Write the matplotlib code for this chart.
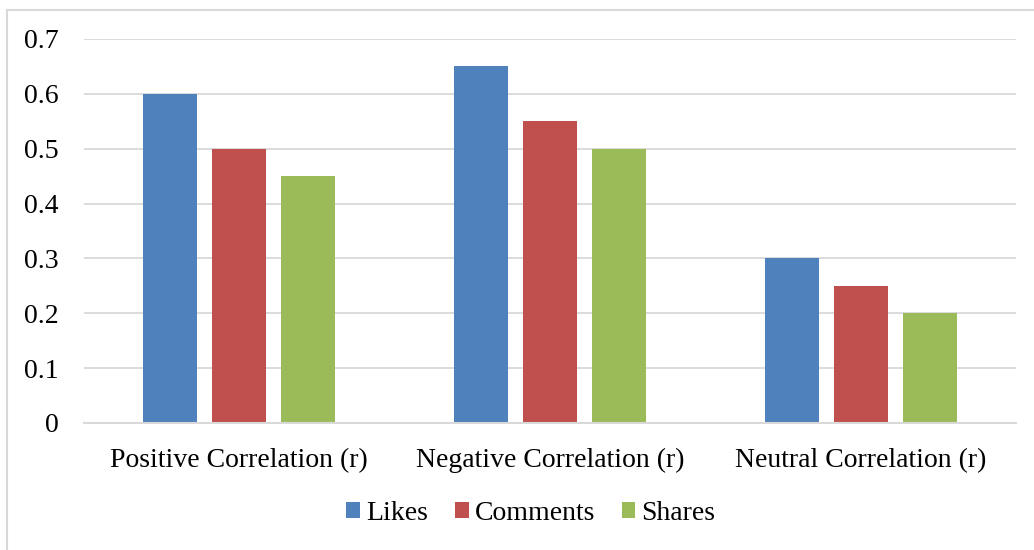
import numpy as np
import matplotlib.pyplot as plt
from matplotlib.patches import Rectangle

categories = ['Positive Correlation (r)', 'Negative Correlation (r)', 'Neutral Correlation (r)']
likes = [0.60, 0.65, 0.30]
comments = [0.50, 0.55, 0.25]
shares = [0.45, 0.50, 0.20]
yticks = [0, 0.1, 0.2, 0.3, 0.4, 0.5, 0.6, 0.7]

plt.rcParams['font.family'] = ['Liberation Serif', 'DejaVu Serif']

W, H = 1034, 550
fig = plt.figure(figsize=(W / 100, H / 100), dpi=100)

# chart frame (cropped at right and bottom)
fig.patches.append(Rectangle((7 / W, -0.1), 1.2, 1 - 10 / H + 0.1, transform=fig.transFigure,
                             fill=False, edgecolor='#D9D9D9', linewidth=1.5))

ax = fig.add_axes([84 / W, 1 - 423 / H, (1016 - 84) / W, (423 - 39) / H])

x = np.arange(len(categories))
step = 0.222
width = 0.174
ax.bar(x - step, likes, width, color='#4F81BD', label='Likes')
ax.bar(x, comments, width, color='#C0504D', label='Comments')
ax.bar(x + step, shares, width, color='#9BBB59', label='Shares')

ax.set_xlim(-0.5, len(categories) - 0.5)
ax.set_ylim(0, 0.7)
ax.set_yticks(yticks)
ax.set_yticklabels(['0' if v == 0 else f'{v:.1f}' for v in yticks])
ax.set_xticks(x)
ax.set_xticklabels(categories)
ax.tick_params(axis='both', length=0, labelsize=20)
ax.tick_params(axis='y', pad=18.5)
ax.tick_params(axis='x', pad=18)
ax.yaxis.grid(True, color='#D9D9D9', linewidth=1.3)
ax.set_axisbelow(True)
for s in ['top', 'right', 'left']:
    ax.spines[s].set_visible(False)
ax.spines['bottom'].set_color('#D9D9D9')
ax.spines['bottom'].set_linewidth(1.5)

fig.legend(loc='center', bbox_to_anchor=(531 / W, 1 - 513 / H), ncol=3, frameon=False,
           fontsize=20, handlelength=0.5, handleheight=0.5, handletextpad=0.22, columnspacing=0.95)

fig.savefig('out.png', dpi=100)
